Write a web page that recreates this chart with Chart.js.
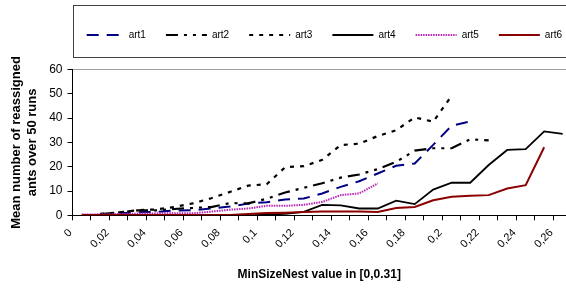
<!DOCTYPE html>
<html><head><meta charset="utf-8">
<script src="https://cdn.jsdelivr.net/npm/chart.js@4.4.0/dist/chart.umd.min.js"></script>
<style>html,body{margin:0;padding:0;background:#fff;overflow:hidden}canvas{display:block}</style>
</head><body>
<canvas id="c" width="566" height="288"></canvas>
<script>
// ---- data ----
const categories = [0.005,0.015,0.025,0.035,0.045,0.055,0.065,0.075,0.085,0.095,0.105,0.115,0.125,0.135,0.145,0.155,0.165,0.175,0.185,0.195,0.205,0.215,0.225,0.235,0.245,0.255,0.265];
const art1 = [null,null,0.8,1.2,1.4,2.0,2.1,2.8,3.6,4.8,5.4,6.5,6.9,9.0,11.7,14.0,17.2,20.4,21.3,29.0,36.9,38.6];
const art2 = [null,0.5,1.2,2.0,2.0,2.6,3.0,3.4,5.0,4.9,6.8,9.4,11.3,13.2,15.5,16.8,19.0,22.0,26.6,27.6,27.6,31.3,30.8];
const art3 = [null,0.6,1.2,2.1,2.4,3.4,4.9,7.0,9.6,12.2,12.8,19.8,20.2,22.8,28.9,29.5,32.6,35.0,40.3,38.5,49.2];
const art4 = [0,0,0,0,0,0,0,0,0,0,0.3,0.6,1.4,4.3,4.1,2.8,2.8,6.0,4.6,10.6,13.4,13.4,20.7,26.9,27.2,34.5,33.5];
const art5 = [0.3,0.4,0.5,0.7,0.8,0.8,0.8,1.5,2.3,2.8,3.9,3.9,4.3,5.5,8.3,9.0,13.1];
const art6 = [0.1,0.1,0.1,0.1,0.1,0.1,0.1,0.1,0.1,0.5,0.9,1.1,1.4,1.6,1.6,1.6,1.4,3.0,3.4,6.2,7.6,8.0,8.3,11.0,12.4,28.0];
const seriesNames = ['art1','art2','art3','art4','art5','art6'];
const seriesValues = [art1,art2,art3,art4,art5,art6];
const xTickValues = [0,0.01,0.02,0.03,0.04,0.05,0.06,0.07,0.08,0.09,0.10,0.11,0.12,0.13,0.14,0.15,0.16,0.17,0.18,0.19,0.20,0.21,0.22,0.23,0.24,0.25,0.26];
const xTickLabels = ['0','','0,02','','0,04','','0,06','','0,08','','0,1','','0,12','','0,14','','0,16','','0,18','','0,2','','0,22','','0,24','','0,26'];
const yTickValues = [0,10,20,30,40,50,60];
const xTitle = 'MinSizeNest value in [0,0.31]';
const yTitle = ['Mean number of reassigned','ants over 50 runs'];

// ---- styles ----
const FONT = "'Liberation Sans', Arial, sans-serif";
const seriesStyles = [
  {color:'#000080', width:2,   dash:[12,8],          legendOffset:16},
  {color:'#000000', width:2.2, dash:[12,6,3,6,3,6],  legendOffset:0},
  {color:'#000000', width:2.2, dash:[4,6],           legendOffset:0},
  {color:'#000000', width:1.8, dash:[],              legendOffset:0},
  {color:'#b826b8', width:2,   dash:[1.5,1],         legendOffset:0},
  {color:'#8b0000', width:2,   dash:[],              legendOffset:0}
];

const datasets = seriesNames.map((name, s) => ({
  label: name,
  data: categories.map((x, i) => ({x: x, y: (seriesValues[s][i] === undefined ? null : seriesValues[s][i])})),
  borderColor: seriesStyles[s].color,
  backgroundColor: seriesStyles[s].color,
  borderWidth: seriesStyles[s].width,
  borderDash: seriesStyles[s].dash,
  borderCapStyle: 'butt',
  pointRadius: 0,
  pointHoverRadius: 0,
  tension: 0,
  fill: false,
  spanGaps: false,
  order: 6 - s
}));

const legendFrame = {
  id: 'legendFrame',
  beforeDraw(chart) {
    const lg = chart.legend;
    const h = lg.height;
    lg.left = 62.7;
    lg.right = 900;
    lg.top = 10;
    lg.bottom = 10 + h;
  },
  afterDraw(chart) {
    const ctx = chart.ctx;
    ctx.save();
    ctx.strokeStyle = '#404040';
    ctx.lineWidth = 1;
    ctx.strokeRect(73.5, 5.5, 560, 52);
    ctx.restore();
  }
};

new Chart(document.getElementById('c'), {
  type: 'line',
  data: { datasets: datasets },
  options: {
    responsive: false,
    animation: false,
    devicePixelRatio: 1,
    layout: { padding: { top: 10, left: 0, right: 0, bottom: 0 } },
    plugins: {
      tooltip: { enabled: false },
      title: { display: false },
      legend: {
        display: true,
        position: 'top',
        align: 'start',
        labels: {
          usePointStyle: true,
          pointStyle: 'line',
          pointStyleWidth: 41,
          padding: 20,
          color: '#000',
          font: { family: FONT, size: 10 },
          sort: (a, b) => a.datasetIndex - b.datasetIndex,
          generateLabels: (chart) => {
            const items = Chart.defaults.plugins.legend.labels.generateLabels(chart);
            items.forEach(it => {
              const ds = chart.data.datasets[it.datasetIndex];
              it.lineDash = ds.borderDash;
              it.lineDashOffset = seriesStyles[it.datasetIndex].legendOffset;
              it.lineWidth = ds.borderWidth;
              it.strokeStyle = ds.borderColor;
              it.fillStyle = ds.borderColor;
              it.pointStyle = 'line';
              it.lineCap = 'butt';
            });
            return items;
          }
        }
      }
    },
    scales: {
      x: {
        type: 'linear',
        min: 0,
        max: 0.2668,
        afterBuildTicks: (scale) => { scale.ticks = xTickValues.map(v => ({value: v})); },
        afterFit: (scale) => { scale.height = 72.7; scale.paddingLeft = 0; scale.paddingRight = 0; },
        grid: { display: true, drawOnChartArea: false, drawTicks: true, tickLength: 5, tickColor: '#000', color: '#000' },
        border: { display: true, color: '#000', width: 1 },
        ticks: {
          autoSkip: false,
          minRotation: 45,
          maxRotation: 45,
          padding: 6,
          labelOffset: -2,
          color: '#000',
          font: { family: FONT, size: 11 },
          callback: (v, i) => xTickLabels[i]
        },
        title: {
          display: true,
          text: xTitle,
          color: '#000',
          font: { family: FONT, size: 12, weight: 'bold' },
          padding: { top: 0, bottom: 6 }
        }
      },
      y: {
        type: 'linear',
        min: 0,
        max: 60,
        afterBuildTicks: (scale) => { scale.ticks = yTickValues.map(v => ({value: v})); },
        afterFit: (scale) => { scale.width = 72.5; scale.paddingTop = 69.5; scale.paddingBottom = 0; },
        grid: {
          display: true,
          drawOnChartArea: true,
          drawTicks: true,
          tickLength: 5,
          tickColor: '#000',
          color: (ctx) => (ctx.tick && ctx.tick.value === 60) ? '#a0a0a0' : 'rgba(0,0,0,0)'
        },
        border: { display: true, color: '#000', width: 1 },
        ticks: {
          padding: 5,
          color: '#000',
          font: { family: FONT, size: 12 }
        },
        title: {
          display: true,
          text: yTitle,
          color: '#000',
          font: { family: FONT, size: 13, weight: 'bold' },
          padding: { top: 9, bottom: 0 }
        }
      }
    }
  },
  plugins: [legendFrame]
});
</script>
</body></html>
